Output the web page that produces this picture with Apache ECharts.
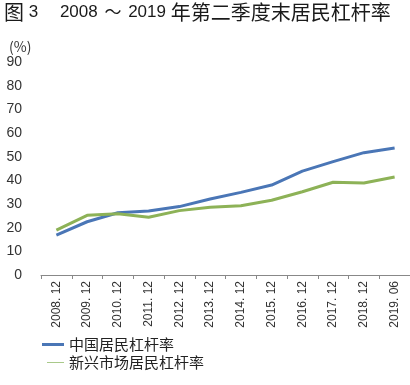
<!DOCTYPE html>
<html><head><meta charset="utf-8">
<script src="https://cdn.jsdelivr.net/npm/echarts@6/dist/echarts.min.js"></script>
<style>html,body{margin:0;padding:0;background:#fff}#c{width:410px;height:385px}</style>
</head><body><div id="c"></div>
<script>
const categories = ['2008.12','2009.12','2010.12','2011.12','2012.12','2013.12','2014.12','2015.12','2016.12','2017.12','2018.12','2019.06'];
const chinaValues = [16.9, 22.5, 26.3, 27.0, 28.9, 32.1, 34.9, 38.0, 43.9, 47.9, 51.7, 53.7];
const emergingValues = [19.0, 25.2, 25.9, 24.4, 27.2, 28.6, 29.3, 31.6, 35.2, 39.2, 38.9, 41.4];
const seriesNames = ['中国居民杠杆率', '新兴市场居民杠杆率'];
const yTicks = [0, 10, 20, 30, 40, 50, 60, 70, 80, 90];

const CJK = '"Noto Sans CJK SC", sans-serif';
const LAT = '"Liberation Sans", Arial, "Noto Sans CJK SC", sans-serif';
const chart = echarts.init(document.getElementById('c'), null, {renderer: 'canvas'});
chart.setOption({
  animation: false,
  backgroundColor: '#fff',
  title: [{
    text: '{c|图} {n|3}　 {n|2008} {t|～} {n|2019} {c|年第二季度末居民杠杆率}',
    left: 4, top: 2, padding: 0,
    textStyle: {
      fontFamily: LAT, fontSize: 17, fontWeight: 'normal', color: '#1a1a1a',
      rich: {
        c: {fontFamily: CJK, fontSize: 20, color: '#1a1a1a'},
        n: {fontFamily: LAT, fontSize: 17, color: '#1a1a1a'},
        t: {fontFamily: CJK, fontSize: 17, color: '#1a1a1a', padding: [0, 2, 0, 2]}
      }
    }
  }, {
    text: '(%)', left: 4, top: 35,
    textStyle: {fontFamily: CJK, fontSize: 14, fontWeight: 'normal', color: '#333'}
  }],
  grid: {left: 41, right: 0, top: 62, bottom: 110},
  legend: [{
    data: [seriesNames[0]], orient: 'vertical', left: 42, top: 337, padding: 0,
    icon: 'rect', itemWidth: 22, itemHeight: 3, itemGap: 0,
    textStyle: {fontFamily: CJK, fontSize: 15, color: '#222'}
  }, {
    data: [seriesNames[1]], orient: 'vertical', left: 47, top: 355, padding: 0,
    icon: 'rect', itemWidth: 17, itemHeight: 1, itemGap: 0,
    textStyle: {fontFamily: CJK, fontSize: 15, color: '#222'}
  }],
  xAxis: {
    type: 'category', data: categories, boundaryGap: true,
    axisLine: {lineStyle: {color: '#888', width: 1}},
    axisTick: {show: true, length: 4, lineStyle: {color: '#888'}},
    axisLabel: {rotate: 90, fontFamily: LAT, fontSize: 12, color: '#333', margin: 6,
      formatter: v => v.replace('.', '. ')}
  },
  yAxis: {
    type: 'value', min: yTicks[0], max: yTicks[yTicks.length-1], interval: 10,
    axisLine: {show: false}, axisTick: {show: false}, splitLine: {show: false},
    axisLabel: {fontFamily: LAT, fontSize: 14, color: '#333', margin: 19}
  },
  series: [{
    name: seriesNames[0], type: 'line', data: chinaValues, symbol: 'none',
    lineStyle: {color: '#4a76b6', width: 3}, itemStyle: {color: '#4a76b6'}
  }, {
    name: seriesNames[1], type: 'line', data: emergingValues, symbol: 'none',
    lineStyle: {color: '#8db257', width: 3}, itemStyle: {color: '#a9c98a'}
  }]
});
</script></body></html>
